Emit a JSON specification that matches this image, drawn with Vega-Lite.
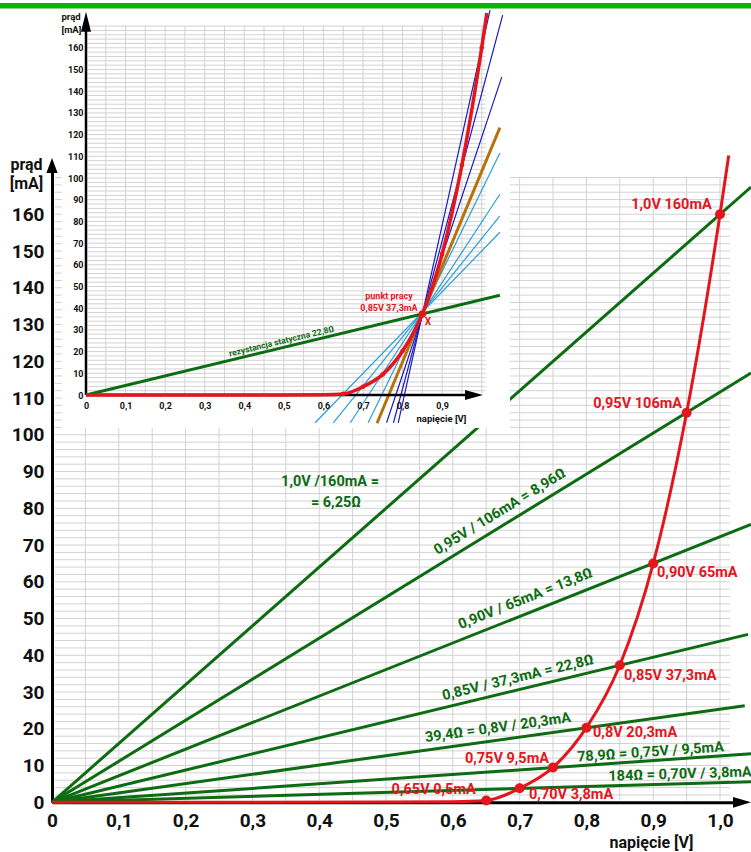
{
"$schema": "https://vega.github.io/schema/vega-lite/v6.json",
"width": 751, "height": 852, "padding": 0, "autosize": {"type": "none"},
"background": "white",
"config": {"view": {"stroke": null}, "font": "Roboto"},
"datasets": {
"gridV": [{"V":0.05},{"V":0.1},{"V":0.15},{"V":0.2},{"V":0.25},{"V":0.3},{"V":0.35},{"V":0.4},{"V":0.45},{"V":0.5},{"V":0.55},{"V":0.6},{"V":0.65},{"V":0.7},{"V":0.75},{"V":0.8},{"V":0.85},{"V":0.9},{"V":0.95},{"V":1.0}],
"gridI": [{"I":2},{"I":4},{"I":6},{"I":8},{"I":10},{"I":12},{"I":14},{"I":16},{"I":18},{"I":20},{"I":22},{"I":24},{"I":26},{"I":28},{"I":30},{"I":32},{"I":34},{"I":36},{"I":38},{"I":40},{"I":42},{"I":44},{"I":46},{"I":48},{"I":50},{"I":52},{"I":54},{"I":56},{"I":58},{"I":60},{"I":62},{"I":64},{"I":66},{"I":68},{"I":70},{"I":72},{"I":74},{"I":76},{"I":78},{"I":80},{"I":82},{"I":84},{"I":86},{"I":88},{"I":90},{"I":92},{"I":94},{"I":96},{"I":98},{"I":100},{"I":102},{"I":104},{"I":106},{"I":108},{"I":110},{"I":112},{"I":114},{"I":116},{"I":118},{"I":120},{"I":122},{"I":124},{"I":126},{"I":128},{"I":130},{"I":132},{"I":134},{"I":136},{"I":138},{"I":140},{"I":142},{"I":144},{"I":146},{"I":148},{"I":150},{"I":152},{"I":154},{"I":156},{"I":158},{"I":160},{"I":162},{"I":164},{"I":166},{"I":168},{"I":170}],
"diode": [{"V":0,"I":0},{"V":0.3,"I":0},{"V":0.5,"I":0.05},{"V":0.6,"I":0.15},{"V":0.65,"I":0.5},{"V":0.7,"I":3.8},{"V":0.75,"I":9.5},{"V":0.8,"I":20.3},{"V":0.85,"I":37.3},{"V":0.9,"I":65},{"V":0.95,"I":106},{"V":1.0,"I":160},{"V":1.013,"I":176}],
"pts": [{"V":0.65,"I":0.5},{"V":0.7,"I":3.8},{"V":0.75,"I":9.5},{"V":0.8,"I":20.3},{"V":0.85,"I":37.3},{"V":0.9,"I":65},{"V":0.95,"I":106},{"V":1.0,"I":160}],
"greenMain": [{"line":"a","V":0,"I":0},{"line":"a","V":1.0464,"I":167.4},{"line":"b","V":0,"I":0},{"line":"b","V":1.0464,"I":116.8},{"line":"c","V":0,"I":0},{"line":"c","V":1.0464,"I":75.6},{"line":"d","V":0,"I":0},{"line":"d","V":1.042,"I":45.7},{"line":"e","V":0,"I":0},{"line":"e","V":1.037,"I":26.3},{"line":"f","V":0,"I":0},{"line":"f","V":1.0464,"I":13.2},{"line":"g","V":0,"I":0},{"line":"g","V":1.0464,"I":5.6}],
"secants": [{"kind":"light","line":"l1","V":0.579,"I":-12.8},{"kind":"light","line":"l1","V":1.046,"I":75},{"kind":"light","line":"l2","V":0.625,"I":-12.8},{"kind":"light","line":"l2","V":1.046,"I":82.5},{"kind":"light","line":"l3","V":0.668,"I":-12.8},{"kind":"light","line":"l3","V":1.046,"I":92.5},{"kind":"light","line":"l4","V":0.713,"I":-12.8},{"kind":"light","line":"l4","V":1.046,"I":111.5},{"kind":"tangent","line":"t","V":0.7354,"I":-13},{"kind":"tangent","line":"t","V":1.046,"I":123.2},{"kind":"blue","line":"b1","V":0.7596,"I":-12.8},{"kind":"blue","line":"b1","V":1.0506,"I":146.5},{"kind":"blue","line":"b2","V":0.777,"I":-12.8},{"kind":"blue","line":"b2","V":1.053,"I":175.1},{"kind":"blue","line":"b3","V":0.789,"I":-12.8},{"kind":"blue","line":"b3","V":1.021,"I":177.4}],
"greenInset": [{"V":0,"I":0},{"V":1.046,"I":46.0}]
},
"layer": [
{
"layer": [
{"data":{"name":"gridV"},"mark":{"type":"rule","color":"#d2d2d2","strokeWidth":1},
 "encoding":{
  "x":{"field":"V","type":"quantitative","scale":{"domain":[0,1.0329],"range":[52,742],"nice":false,"zero":false},
   "axis":{"orient":"bottom","offset":-49.7,"values":[0,0.1,0.2,0.3,0.4,0.5,0.6,0.7,0.8,0.9,1.0],"grid":false,"ticks":false,"tickSize":0,"domain":true,"domainColor":"#000000","domainWidth":3,"labelPadding":9,"labelFont":"Roboto","labelFontSize":19,"labelFontWeight":"bold","labelColor":"#111111","labelFlush":false,"labelOverlap":false,"labelBound":false,"labelExpr":"datum.value == 0 ? '0' : replace(format(datum.value, '.1f'), '.', ',')","title":"napięcie [V]","titleX":651,"titleY":39.7,"titleAlign":"center","titleBaseline":"middle","titleFont":"Roboto","titleFontSize":16,"titleFontWeight":"bold","titleColor":"#111111","zindex":0}},
  "y":{"datum":0.5,"type":"quantitative","scale":{"domain":[0,173.3],"range":[802.3,165.4],"nice":false,"zero":false}},"y2":{"datum":170}}},
{"data":{"name":"gridI"},"mark":{"type":"rule","color":"#d2d2d2","strokeWidth":1},
 "encoding":{
  "x":{"datum":0.004,"type":"quantitative","scale":{"domain":[0,1.0329],"range":[52,742],"nice":false,"zero":false}},"x2":{"datum":1.015},
  "y":{"field":"I","type":"quantitative","scale":{"domain":[0,173.3],"range":[802.3,165.4],"nice":false,"zero":false},
   "axis":{"orient":"left","offset":-52,"values":[0,10,20,30,40,50,60,70,80,90,100,110,120,130,140,150,160],"grid":false,"ticks":false,"tickSize":0,"domain":true,"domainColor":"#000000","domainWidth":3,"labelPadding":8,"labelFont":"Roboto","labelFontSize":19,"labelFontWeight":"bold","labelColor":"#111111","labelFlush":false,"labelOverlap":false,"labelBound":false,"format":"d","title":["prąd","[mA]"],"titleAngle":0,"titleX":-26,"titleY":169,"titleAlign":"center","titleBaseline":"alphabetic","titleLineHeight":19,"titleFont":"Roboto","titleFontSize":16,"titleFontWeight":"bold","titleColor":"#111111","zindex":0}}}},
{"data":{"name":"greenMain"},"mark":{"type":"line","color":"#0d6b12","strokeWidth":3},
 "encoding":{"x":{"field":"V","type":"quantitative","scale":{"domain":[0,1.0329],"range":[52,742],"nice":false,"zero":false}},"y":{"field":"I","type":"quantitative","scale":{"domain":[0,173.3],"range":[802.3,165.4],"nice":false,"zero":false}},"detail":{"field":"line"}}},
{"data":{"name":"diode"},"mark":{"type":"line","color":"#e3161d","strokeWidth":3,"interpolate":"monotone"},
 "encoding":{"x":{"field":"V","type":"quantitative","scale":{"domain":[0,1.0329],"range":[52,742],"nice":false,"zero":false}},"y":{"field":"I","type":"quantitative","scale":{"domain":[0,173.3],"range":[802.3,165.4],"nice":false,"zero":false}}}},
{"data":{"name":"pts"},"mark":{"type":"circle","color":"#e3161d","size":100,"opacity":1},
 "encoding":{"x":{"field":"V","type":"quantitative","scale":{"domain":[0,1.0329],"range":[52,742],"nice":false,"zero":false}},"y":{"field":"I","type":"quantitative","scale":{"domain":[0,173.3],"range":[802.3,165.4],"nice":false,"zero":false}}}},
{"data":{"values":[{"t":"1,0V 160mA","V":0.9876,"I":162.5},{"t":"0,95V 106mA","V":0.9431,"I":108.4},{"t":"0,75V 9,5mA","V":0.744,"I":11.8},{"t":"0,65V 0,5mA","V":0.6343,"I":3.35}]},
 "mark":{"type":"text","align":"right","baseline":"middle","font":"Roboto","fontSize":14.5,"fontWeight":"bold","color":"#e3161d"},
 "encoding":{"x":{"field":"V","type":"quantitative","scale":{"domain":[0,1.0329],"range":[52,742],"nice":false,"zero":false}},"y":{"field":"I","type":"quantitative","scale":{"domain":[0,173.3],"range":[802.3,165.4],"nice":false,"zero":false}},"text":{"field":"t"}}},
{"data":{"values":[{"t":"0,90V 65mA","V":0.9057,"I":62.4},{"t":"0,85V 37,3mA","V":0.8563,"I":34.4},{"t":"0,8V 20,3mA","V":0.8099,"I":18.9},{"t":"0,70V 3,8mA","V":0.7141,"I":2.0}]},
 "mark":{"type":"text","align":"left","baseline":"middle","font":"Roboto","fontSize":14.5,"fontWeight":"bold","color":"#e3161d"},
 "encoding":{"x":{"field":"V","type":"quantitative","scale":{"domain":[0,1.0329],"range":[52,742],"nice":false,"zero":false}},"y":{"field":"I","type":"quantitative","scale":{"domain":[0,173.3],"range":[802.3,165.4],"nice":false,"zero":false}},"text":{"field":"t"}}},
{"data":{"values":[{"t":"1,0V /160mA =","V":0.4162,"I":87.2},{"t":"= 6,25Ω","V":0.4251,"I":81.4}]},
 "mark":{"type":"text","align":"center","baseline":"middle","font":"Roboto","fontSize":14.5,"fontWeight":"bold","color":"#0d6b12"},
 "encoding":{"x":{"field":"V","type":"quantitative","scale":{"domain":[0,1.0329],"range":[52,742],"nice":false,"zero":false}},"y":{"field":"I","type":"quantitative","scale":{"domain":[0,173.3],"range":[802.3,165.4],"nice":false,"zero":false}},"text":{"field":"t"}}},
{"data":{"values":[{"t":"0,95V / 106mA = 8,96Ω","V":0.6707,"I":79.0}]},
 "mark":{"type":"text","align":"center","baseline":"middle","font":"Roboto","fontSize":14.5,"fontWeight":"bold","color":"#0d6b12","angle":328.5},
 "encoding":{"x":{"field":"V","type":"quantitative","scale":{"domain":[0,1.0329],"range":[52,742],"nice":false,"zero":false}},"y":{"field":"I","type":"quantitative","scale":{"domain":[0,173.3],"range":[802.3,165.4],"nice":false,"zero":false}},"text":{"field":"t"}}},
{"data":{"values":[{"t":"0,90V / 65mA = 13,8Ω","V":0.7088,"I":55.3}]},
 "mark":{"type":"text","align":"center","baseline":"middle","font":"Roboto","fontSize":14.5,"fontWeight":"bold","color":"#0d6b12","angle":338.3},
 "encoding":{"x":{"field":"V","type":"quantitative","scale":{"domain":[0,1.0329],"range":[52,742],"nice":false,"zero":false}},"y":{"field":"I","type":"quantitative","scale":{"domain":[0,173.3],"range":[802.3,165.4],"nice":false,"zero":false}},"text":{"field":"t"}}},
{"data":{"values":[{"t":"0,85V / 37,3mA = 22,8Ω","V":0.6976,"I":33.8}]},
 "mark":{"type":"text","align":"center","baseline":"middle","font":"Roboto","fontSize":14.5,"fontWeight":"bold","color":"#0d6b12","angle":346.4},
 "encoding":{"x":{"field":"V","type":"quantitative","scale":{"domain":[0,1.0329],"range":[52,742],"nice":false,"zero":false}},"y":{"field":"I","type":"quantitative","scale":{"domain":[0,173.3],"range":[802.3,165.4],"nice":false,"zero":false}},"text":{"field":"t"}}},
{"data":{"values":[{"t":"39,4Ω = 0,8V / 20,3mA","V":0.6677,"I":20.2}]},
 "mark":{"type":"text","align":"center","baseline":"middle","font":"Roboto","fontSize":14.5,"fontWeight":"bold","color":"#0d6b12","angle":352.1},
 "encoding":{"x":{"field":"V","type":"quantitative","scale":{"domain":[0,1.0329],"range":[52,742],"nice":false,"zero":false}},"y":{"field":"I","type":"quantitative","scale":{"domain":[0,173.3],"range":[802.3,165.4],"nice":false,"zero":false}},"text":{"field":"t"}}},
{"data":{"values":[{"t":"78,9Ω = 0,75V / 9,5mA","V":0.896,"I":13.55}]},
 "mark":{"type":"text","align":"center","baseline":"middle","font":"Roboto","fontSize":14.5,"fontWeight":"bold","color":"#0d6b12","angle":356},
 "encoding":{"x":{"field":"V","type":"quantitative","scale":{"domain":[0,1.0329],"range":[52,742],"nice":false,"zero":false}},"y":{"field":"I","type":"quantitative","scale":{"domain":[0,173.3],"range":[802.3,165.4],"nice":false,"zero":false}},"text":{"field":"t"}}},
{"data":{"values":[{"t":"184Ω = 0,70V / 3,8mA","V":0.9401,"I":7.56}]},
 "mark":{"type":"text","align":"center","baseline":"middle","font":"Roboto","fontSize":14.5,"fontWeight":"bold","color":"#0d6b12","angle":358.3},
 "encoding":{"x":{"field":"V","type":"quantitative","scale":{"domain":[0,1.0329],"range":[52,742],"nice":false,"zero":false}},"y":{"field":"I","type":"quantitative","scale":{"domain":[0,173.3],"range":[802.3,165.4],"nice":false,"zero":false}},"text":{"field":"t"}}},
{"data":{"values":[{"V":1.0329,"I":0}]},"mark":{"type":"point","shape":"M-1,-0.6L1,0L-1,0.6Z","size":324,"filled":true,"color":"#000000","opacity":1},
 "encoding":{"x":{"field":"V","type":"quantitative","scale":{"domain":[0,1.0329],"range":[52,742],"nice":false,"zero":false}},"y":{"field":"I","type":"quantitative","scale":{"domain":[0,173.3],"range":[802.3,165.4],"nice":false,"zero":false}}}},
{"data":{"values":[{"V":0,"I":173.3}]},"mark":{"type":"point","shape":"M-0.75,1L0,-1L0.75,1Z","size":225,"filled":true,"color":"#000000","opacity":1},
 "encoding":{"x":{"field":"V","type":"quantitative","scale":{"domain":[0,1.0329],"range":[52,742],"nice":false,"zero":false}},"y":{"field":"I","type":"quantitative","scale":{"domain":[0,173.3],"range":[802.3,165.4],"nice":false,"zero":false}}}}
]
},
{
"layer": [
{"data":{"values":[{}]},"mark":{"type":"rect","color":"#ffffff","opacity":1},
 "encoding":{"x":{"datum":-0.0607,"type":"quantitative","scale":{"domain":[0,1],"range":[86,481.7],"nice":false,"zero":false}},"x2":{"datum":1.0715},
  "y":{"datum":-15.2,"type":"quantitative","scale":{"domain":[0,160],"range":[395,47.8],"nice":false,"zero":false}},"y2":{"datum":177.4}}},
{"data":{"values":[{}]},"mark":{"type":"rect","color":"#0ab20a","opacity":1},
 "encoding":{"x":{"datum":-0.2173,"type":"quantitative","scale":{"domain":[0,1],"range":[86,481.7],"nice":false,"zero":false}},"x2":{"datum":1.6806},
  "y":{"datum":178.1,"type":"quantitative","scale":{"domain":[0,160],"range":[395,47.8],"nice":false,"zero":false}},"y2":{"datum":180.6}}},
{"data":{"name":"gridV"},"mark":{"type":"rule","color":"#d2d2d2","strokeWidth":1},
 "encoding":{
  "x":{"field":"V","type":"quantitative","scale":{"domain":[0,1],"range":[86,481.7],"nice":false,"zero":false},
   "axis":{"orient":"bottom","offset":-457,"values":[0,0.1,0.2,0.3,0.4,0.5,0.6,0.7,0.8,0.9],"grid":false,"ticks":false,"tickSize":0,"domain":false,"labelPadding":6,"labelFont":"Roboto","labelFontSize":9,"labelFontWeight":"bold","labelColor":"#111111","labelFlush":false,"labelOverlap":false,"labelBound":false,"labelExpr":"datum.value == 0 ? '0' : replace(format(datum.value, '.1f'), '.', ',')","title":"napięcie [V]","titleX":441,"titleY":23,"titleAlign":"center","titleBaseline":"middle","titleFont":"Roboto","titleFontSize":9.5,"titleFontWeight":"bold","titleColor":"#111111","zindex":1}},
  "y":{"datum":0.5,"type":"quantitative","scale":{"domain":[0,160],"range":[395,47.8],"nice":false,"zero":false}},"y2":{"datum":170}}},
{"data":{"name":"gridI"},"mark":{"type":"rule","color":"#d2d2d2","strokeWidth":1},
 "encoding":{
  "x":{"datum":0.004,"type":"quantitative","scale":{"domain":[0,1],"range":[86,481.7],"nice":false,"zero":false}},"x2":{"datum":1.01},
  "y":{"field":"I","type":"quantitative","scale":{"domain":[0,160],"range":[395,47.8],"nice":false,"zero":false},
   "axis":{"orient":"left","offset":-86,"values":[0,10,20,30,40,50,60,70,80,90,100,110,120,130,140,150,160],"grid":false,"ticks":false,"tickSize":0,"domain":false,"labelPadding":3,"labelFont":"Roboto","labelFontSize":9,"labelFontWeight":"bold","labelColor":"#111111","labelFlush":false,"labelOverlap":false,"labelBound":false,"format":"d","title":["prąd","[mA]"],"titleAngle":0,"titleX":-25,"titleY":19.5,"titleAlign":"left","titleBaseline":"alphabetic","titleLineHeight":13,"titleFont":"Roboto","titleFontSize":9.5,"titleFontWeight":"bold","titleColor":"#111111","zindex":1}}}},
{"data":{"name":"secants"},"transform":[{"filter":"datum.kind == 'light'"}],"mark":{"type":"line","color":"#2a9fd6","strokeWidth":1.2},
 "encoding":{"x":{"field":"V","type":"quantitative","scale":{"domain":[0,1],"range":[86,481.7],"nice":false,"zero":false}},"y":{"field":"I","type":"quantitative","scale":{"domain":[0,160],"range":[395,47.8],"nice":false,"zero":false}},"detail":{"field":"line"}}},
{"data":{"name":"secants"},"transform":[{"filter":"datum.kind == 'tangent'"}],"mark":{"type":"line","color":"#b8720c","strokeWidth":3},
 "encoding":{"x":{"field":"V","type":"quantitative","scale":{"domain":[0,1],"range":[86,481.7],"nice":false,"zero":false}},"y":{"field":"I","type":"quantitative","scale":{"domain":[0,160],"range":[395,47.8],"nice":false,"zero":false}},"detail":{"field":"line"}}},
{"data":{"name":"secants"},"transform":[{"filter":"datum.kind == 'blue'"}],"mark":{"type":"line","color":"#1b1bc4","strokeWidth":1.2},
 "encoding":{"x":{"field":"V","type":"quantitative","scale":{"domain":[0,1],"range":[86,481.7],"nice":false,"zero":false}},"y":{"field":"I","type":"quantitative","scale":{"domain":[0,160],"range":[395,47.8],"nice":false,"zero":false}},"detail":{"field":"line"}}},
{"data":{"values":[{}]},"mark":{"type":"rule","color":"#000000","strokeWidth":2.5},
 "encoding":{"x":{"datum":0,"type":"quantitative","scale":{"domain":[0,1],"range":[86,481.7],"nice":false,"zero":false}},"x2":{"datum":0.965},
  "y":{"datum":0,"type":"quantitative","scale":{"domain":[0,160],"range":[395,47.8],"nice":false,"zero":false}}}},
{"data":{"values":[{}]},"mark":{"type":"rule","color":"#000000","strokeWidth":2.5},
 "encoding":{"x":{"datum":0,"type":"quantitative","scale":{"domain":[0,1],"range":[86,481.7],"nice":false,"zero":false}},
  "y":{"datum":0,"type":"quantitative","scale":{"domain":[0,160],"range":[395,47.8],"nice":false,"zero":false}},"y2":{"datum":168}}},
{"data":{"name":"greenInset"},"mark":{"type":"line","color":"#0d6b12","strokeWidth":3},
 "encoding":{"x":{"field":"V","type":"quantitative","scale":{"domain":[0,1],"range":[86,481.7],"nice":false,"zero":false}},"y":{"field":"I","type":"quantitative","scale":{"domain":[0,160],"range":[395,47.8],"nice":false,"zero":false}}}},
{"data":{"name":"diode"},"mark":{"type":"line","color":"#e3161d","strokeWidth":3.5,"interpolate":"monotone"},
 "encoding":{"x":{"field":"V","type":"quantitative","scale":{"domain":[0,1],"range":[86,481.7],"nice":false,"zero":false}},"y":{"field":"I","type":"quantitative","scale":{"domain":[0,160],"range":[395,47.8],"nice":false,"zero":false}}}},
{"data":{"name":"pts"},"transform":[{"filter":"datum.V != 0.85"}],"mark":{"type":"circle","color":"#e3161d","size":22,"opacity":1},
 "encoding":{"x":{"field":"V","type":"quantitative","scale":{"domain":[0,1],"range":[86,481.7],"nice":false,"zero":false}},"y":{"field":"I","type":"quantitative","scale":{"domain":[0,160],"range":[395,47.8],"nice":false,"zero":false}}}},
{"data":{"name":"pts"},"transform":[{"filter":"datum.V == 0.85"}],"mark":{"type":"circle","color":"#e3161d","size":55,"opacity":1},
 "encoding":{"x":{"field":"V","type":"quantitative","scale":{"domain":[0,1],"range":[86,481.7],"nice":false,"zero":false}},"y":{"field":"I","type":"quantitative","scale":{"domain":[0,160],"range":[395,47.8],"nice":false,"zero":false}}}},
{"data":{"values":[{"t":"rezystancja statyczna  22,8Ω","V":0.494,"I":24.9}]},
 "mark":{"type":"text","align":"center","baseline":"middle","font":"Roboto","fontSize":8.5,"fontWeight":"bold","color":"#0d6b12","angle":346.5},
 "encoding":{"x":{"field":"V","type":"quantitative","scale":{"domain":[0,1],"range":[86,481.7],"nice":false,"zero":false}},"y":{"field":"I","type":"quantitative","scale":{"domain":[0,160],"range":[395,47.8],"nice":false,"zero":false}},"text":{"field":"t"}}},
{"data":{"values":[{"t":"punkt pracy","V":0.7657,"I":45.6},{"t":"0,85V  37,3mA","V":0.7657,"I":40.0}]},
 "mark":{"type":"text","align":"center","baseline":"middle","font":"Roboto","fontSize":9,"fontWeight":"bold","color":"#e3161d"},
 "encoding":{"x":{"field":"V","type":"quantitative","scale":{"domain":[0,1],"range":[86,481.7],"nice":false,"zero":false}},"y":{"field":"I","type":"quantitative","scale":{"domain":[0,160],"range":[395,47.8],"nice":false,"zero":false}},"text":{"field":"t"}}},
{"data":{"values":[{"t":"X","V":0.8643,"I":33.8}]},
 "mark":{"type":"text","align":"center","baseline":"middle","font":"Roboto","fontSize":10,"fontWeight":"bold","color":"#e3161d"},
 "encoding":{"x":{"field":"V","type":"quantitative","scale":{"domain":[0,1],"range":[86,481.7],"nice":false,"zero":false}},"y":{"field":"I","type":"quantitative","scale":{"domain":[0,160],"range":[395,47.8],"nice":false,"zero":false}},"text":{"field":"t"}}},
{"data":{"values":[{"V":0.9805,"I":0}]},"mark":{"type":"point","shape":"M-1,-0.55L1,0L-1,0.55Z","size":324,"filled":true,"color":"#000000","opacity":1},
 "encoding":{"x":{"field":"V","type":"quantitative","scale":{"domain":[0,1],"range":[86,481.7],"nice":false,"zero":false}},"y":{"field":"I","type":"quantitative","scale":{"domain":[0,160],"range":[395,47.8],"nice":false,"zero":false}}}},
{"data":{"values":[{"V":0,"I":172}]},"mark":{"type":"point","shape":"M-0.5,1L0,-1L0.5,1Z","size":400,"filled":true,"color":"#000000","opacity":1},
 "encoding":{"x":{"field":"V","type":"quantitative","scale":{"domain":[0,1],"range":[86,481.7],"nice":false,"zero":false}},"y":{"field":"I","type":"quantitative","scale":{"domain":[0,160],"range":[395,47.8],"nice":false,"zero":false}}}}
]
}
],
"resolve": {"scale": {"x": "independent", "y": "independent"}, "axis": {"x": "independent", "y": "independent"}}
}
